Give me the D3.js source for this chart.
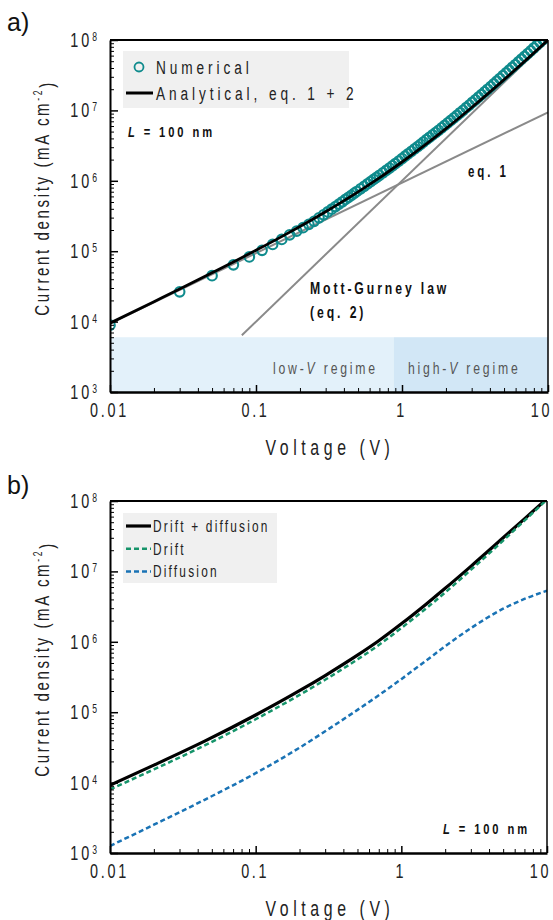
<!DOCTYPE html>
<html>
<head>
<meta charset="utf-8">
<script src="https://cdn.jsdelivr.net/npm/d3@7"></script>
<style>body{margin:0;background:#fff}</style>
</head>
<body>
<script>
var FONT = "'Liberation Sans', Arial, sans-serif"
  , K = 0.72            // horizontal squeeze, the original uses a narrow face
  ;

// axis ticks
var xTicks = [0.01, 0.1, 1, 10]
  , xTickLabels = ["0.01", "0.1", "1", "10"]
  , yTicks = [1e3, 1e4, 1e5, 1e6, 1e7, 1e8]
  , yExp = ["3", "4", "5", "6", "7", "8"]
  ;

// panel a) numerical solution (open circles)
var numV = [0.01, 0.03, 0.05, 0.07, 0.09, 0.11, 0.13, 0.15, 0.17, 0.19, 0.21, 0.23, 0.25, 0.27, 0.29,
            0.31, 0.33, 0.35, 0.37, 0.39, 0.41, 0.43, 0.45, 0.47, 0.49,
            0.52, 0.55, 0.58, 0.61, 0.64, 0.67, 0.70, 0.74, 0.78, 0.82, 0.86, 0.90, 0.95, 1.00,
            1.05, 1.10, 1.16, 1.22, 1.28, 1.34, 1.40, 1.47, 1.54, 1.62, 1.70, 1.78, 1.87, 1.96,
            2.06, 2.16, 2.27, 2.38, 2.50, 2.62, 2.75, 2.89, 3.03, 3.18, 3.34, 3.50, 3.68, 3.86,
            4.05, 4.25, 4.46, 4.68, 4.91, 5.16, 5.42, 5.69, 5.97, 6.27, 6.58, 6.91, 7.26, 7.62,
            8.00, 8.40, 8.82, 9.26, 9.72, 9.99];
var numJ = [8.9e3, 2.65e4, 4.49e4, 6.4e4, 8.3e4, 1.03e5, 1.25e5, 1.47e5, 1.71e5, 1.93e5, 2.16e5, 2.41e5, 2.66e5, 2.98e5, 3.29e5,
            3.61e5, 3.95e5, 4.30e5, 4.67e5, 5.04e5, 5.43e5, 5.83e5, 6.22e5, 6.63e5, 7.05e5,
            7.68e5, 8.34e5, 9.03e5, 9.73e5, 1.045e6, 1.118e6, 1.195e6, 1.298e6, 1.405e6, 1.517e6, 1.632e6, 1.752e6, 1.906e6, 2.066e6,
            2.234e6, 2.407e6, 2.621e6, 2.84e6, 3.064e6, 3.299e6, 3.543e6, 3.834e6, 4.128e6, 4.478e6, 4.84e6, 5.216e6, 5.655e6, 6.111e6,
            6.654e6, 7.202e6, 7.843e6, 8.497e6, 9.262e6, 1.004e7, 1.094e7, 1.192e7, 1.296e7, 1.411e7, 1.542e7, 1.675e7, 1.834e7, 1.997e7,
            2.182e7, 2.38e7, 2.604e7, 2.841e7, 3.109e7, 3.404e7, 3.726e7, 4.075e7, 4.454e7, 4.878e7, 5.336e7, 5.846e7, 6.413e7, 7.023e7,
            7.697e7, 8.439e7, 9.256e7, 1.015e8, 1.113e8, 1.173e8];

// panel a) analytical curve and the two limiting laws
var anaV = [0.01, 0.02, 0.03, 0.05, 0.07, 0.1, 0.15, 0.2, 0.3, 0.5, 0.7, 1, 1.5, 2, 3, 5, 7, 10];
var anaJ = [9.5e3, 1.92e4, 2.9e4, 4.93e4, 7.02e4, 1.03e5, 1.61e5, 2.24e5, 3.64e5, 6.97e5, 1.1e6, 1.85e6, 3.45e6, 5.5e6, 1.1e7, 2.74e7, 5.1e7, 1.0e8];
var eq1V = [0.01, 10], eq1J = [9.4e3, 9.4e6];
var mgV = [0.08, 10], mgJ = [6.4e3, 1e8];

// panel a) shaded regimes
var regimeV = [[0.01, 0.88], [0.88, 10]]
  , regimeTop = 6e3
  , regimeFill = ["#e3f1fa", "#d2e7f6"]
  ;

// panel b)
var bV = [0.01, 0.02, 0.045, 0.1, 0.2, 0.3, 0.5, 0.7, 1, 1.5, 2, 3, 5, 7, 10];
var bothJ  = [9.2e3, 1.77e4, 3.91e4, 9.12e4, 2.02e5, 3.32e5, 6.46e5, 1.035e6, 1.8e6, 3.51e6, 5.75e6, 1.18e7, 3.0e7, 5.57e7, 1.08e8];
var driftJ = [8.0e3, 1.54e4, 3.4e4, 7.94e4, 1.76e5, 2.89e5, 5.62e5, 9.0e5, 1.57e6, 3.05e6, 5.01e6, 1.05e7, 2.74e7, 5.26e7, 1.05e8];
var diffJ  = [1.26e3, 2.52e3, 5.75e3, 1.36e4, 3.13e4, 5.35e4, 1.08e5, 1.74e5, 2.95e5, 5.53e5, 8.65e5, 1.56e6, 2.95e6, 4.06e6, 5.31e6];

var TEAL = "#0f8b8d", GREEN = "#16946a", BLUE = "#1a73b5", GRAY = "#8a8a8a";

var svg = d3.select("body").append("svg").attr("width", 553).attr("height", 920);

function zip (xs, ys) { return xs.map(function (v, i) { return [v, ys[i]]; }); }

// squeeze a text horizontally around its own anchor; ls is the visible letter spacing
function narrow (sel, ls) {
    sel.each(function () {
        var t = d3.select(this)
          , x = +t.attr("x") || 0
          , y = +t.attr("y") || 0
          , pre = t.attr("transform") || ""
          ;
        t.attr("transform", pre + " translate(" + x + "," + y + ") scale(" + K + ",1) translate(" + (-x) + "," + (-y) + ")");
        if (ls != null) t.attr("letter-spacing", ls / K);
    });
    return sel;
}

function panel (id, top, bottom, right) {
    var x = d3.scaleLog().domain([0.01, 10]).range([110, right])
      , y = d3.scaleLog().domain([1e3, 1e8]).range([bottom, top])
      ;
    svg.append("clipPath").attr("id", id).append("rect")
        .attr("x", x(0.01)).attr("y", y(1e8))
        .attr("width", x(10) - x(0.01)).attr("height", y(1e3) - y(1e8));
    var g = svg.append("g");
    var plot = g.append("g").attr("clip-path", "url(#" + id + ")");
    var line = d3.line().x(function (d) { return x(d[0]); }).y(function (d) { return y(d[1]); }).curve(d3.curveMonotoneX);
    return { x: x, y: y, g: g, plot: plot, line: line };
}

function isMajor (d) { var l = Math.log10(d); return Math.abs(l - Math.round(l)) < 1e-6; }

function axes (p) {
    var x = p.x, y = p.y, g = p.g
      , b = y.range()[0], t = y.range()[1], l = x.range()[0], r = x.range()[1];

    // minor ticks
    g.append("g").attr("transform", "translate(0," + b + ")")
        .call(d3.axisBottom(x).tickValues(x.ticks().filter(function (d) { return !isMajor(d); }))
            .tickSize(-4).tickSizeOuter(0).tickFormat(""))
        .call(function (s) { s.select(".domain").remove(); });
    g.append("g").attr("transform", "translate(" + l + ",0)")
        .call(d3.axisLeft(y).tickValues(y.ticks().filter(function (d) { return !isMajor(d); }))
            .tickSize(-4).tickSizeOuter(0).tickFormat(""))
        .call(function (s) { s.select(".domain").remove(); });

    var gx = g.append("g").attr("transform", "translate(0," + b + ")")
        .call(d3.axisBottom(x).tickValues(xTicks).tickSize(-7).tickSizeOuter(0).tickPadding(11)
            .tickFormat(function (d, i) { return xTickLabels[i]; }));
    gx.select(".domain").attr("stroke-width", 2.5);
    gx.selectAll(".tick line").attr("stroke-width", 1.5);
    gx.selectAll(".tick text").attr("font-family", FONT).attr("font-size", 20).attr("fill", "#222")
        .attr("x", function (d, i) { return i === xTicks.length - 1 ? -7 : -1; });
    narrow(gx.selectAll(".tick text"), 2.7);

    var gy = g.append("g").attr("transform", "translate(" + l + ",0)")
        .call(d3.axisLeft(y).tickValues(yTicks).tickSize(-8).tickSizeOuter(0).tickPadding(10).tickFormat(""));
    gy.select(".domain").attr("stroke-width", 2);
    gy.selectAll(".tick line").attr("stroke-width", 1.5);
    gy.selectAll(".tick text").each(function (d, i) {
        var txt = d3.select(this).attr("font-family", FONT).attr("font-size", 20).attr("fill", "#222");
        txt.append("tspan").text("10");
        txt.append("tspan").attr("dy", "-0.5em").attr("font-size", 12).text(yExp[i]);
    });
    narrow(gy.selectAll(".tick text"), 3);

    // frame top and right
    g.append("line").attr("x1", l).attr("x2", r).attr("y1", t).attr("y2", t)
        .attr("stroke", "#000").attr("stroke-width", 2);
    g.append("line").attr("x1", r).attr("x2", r).attr("y1", t).attr("y2", b)
        .attr("stroke", "#000").attr("stroke-width", 1.5);

    // axis titles
    narrow(g.append("text").attr("x", 330).attr("y", b + 63)
        .attr("text-anchor", "middle").attr("font-family", FONT).attr("font-size", 22)
        .attr("fill", "#222").text("Voltage (V)"), 4.6);
    var yl = g.append("text").attr("transform", "translate(49," + ((t + b) / 2 - 18) + ") rotate(-90)")
        .attr("text-anchor", "middle").attr("font-family", FONT).attr("font-size", 21)
        .attr("fill", "#222");
    yl.append("tspan").text("Current density (mA cm");
    yl.append("tspan").attr("dy", "-0.6em").attr("font-size", 12).text("-2");
    yl.append("tspan").attr("dy", "0.6em").text(")");
    narrow(yl, 2.6);
}

// ---------- panel a ----------
var A = panel("clipA", 40, 392, 548);

A.plot.selectAll("rect.regime").data(regimeV).enter().append("rect")
    .attr("x", function (d) { return A.x(d[0]); })
    .attr("width", function (d) { return A.x(d[1]) - A.x(d[0]); })
    .attr("y", A.y(regimeTop))
    .attr("height", A.y(1e3) - A.y(regimeTop))
    .attr("fill", function (d, i) { return regimeFill[i]; });

var regimeText = A.g.append("g").attr("font-family", FONT).attr("font-size", 17).attr("fill", "#555");
[["low-", 273], ["high-", 408]].forEach(function (r) {
    var t = regimeText.append("text").attr("x", r[1]).attr("y", 374);
    t.append("tspan").text(r[0]);
    t.append("tspan").attr("font-style", "italic").text("V");
    t.append("tspan").text(" regime");
    narrow(t, 2.8);
});

[[eq1V, eq1J], [mgV, mgJ]].forEach(function (s) {
    A.plot.append("path").datum(zip(s[0], s[1]))
        .attr("d", d3.line().x(function (d) { return A.x(d[0]); }).y(function (d) { return A.y(d[1]); }))
        .attr("fill", "none").attr("stroke", GRAY).attr("stroke-width", 2);
});

A.plot.selectAll("circle.num").data(zip(numV, numJ)).enter().append("circle")
    .attr("cx", function (d) { return A.x(d[0]); })
    .attr("cy", function (d) { return A.y(d[1]); })
    .attr("r", 4.8).attr("fill", "none").attr("stroke", TEAL).attr("stroke-width", 2.1);

A.plot.append("path").datum(zip(anaV, anaJ)).attr("d", A.line)
    .attr("fill", "none").attr("stroke", "#000").attr("stroke-width", 2.8);

axes(A);

// legend a
var legA = A.g.append("g");
legA.append("rect").attr("x", 123).attr("y", 51).attr("width", 226).attr("height", 57).attr("fill", "#f0f0f0");
legA.append("circle").attr("cx", 139).attr("cy", 67).attr("r", 4.5).attr("fill", "none").attr("stroke", TEAL).attr("stroke-width", 1.8);
legA.append("line").attr("x1", 126).attr("x2", 153).attr("y1", 93).attr("y2", 93).attr("stroke", "#000").attr("stroke-width", 3);
narrow(legA.selectAll("text").data(["Numerical", "Analytical, eq. 1 + 2"]).enter().append("text")
    .attr("x", 156).attr("y", function (d, i) { return 74 + i * 26; })
    .attr("font-family", FONT).attr("font-size", 19).attr("fill", "#222")
    .text(function (d) { return d; }), 3.9);

function boldLabel (g, x, y, size, parts) {
    var t = g.append("text").attr("x", x).attr("y", y).attr("font-family", FONT).attr("font-size", size)
        .attr("font-weight", "bold").attr("fill", "#111");
    parts.forEach(function (p) {
        var s = t.append("tspan").text(p[0]);
        if (p[1]) s.attr("font-style", "italic");
    });
    narrow(t, 2.9);
}
boldLabel(A.g, 128, 137, 15.5, [["L", true], [" = 100 nm"]]);
boldLabel(A.g, 468, 177, 16, [["eq. 1"]]);
boldLabel(A.g, 310, 294, 17, [["Mott-Gurney law"]]);
boldLabel(A.g, 310, 318, 17, [["(eq. 2)"]]);

svg.append("text").attr("x", 7).attr("y", 31).attr("font-family", FONT)
    .attr("font-size", 25).attr("fill", "#111").text("a)");

// ---------- panel b ----------
var B = panel("clipB", 501, 853, 547);

B.plot.append("path").datum(zip(bV, diffJ)).attr("d", B.line)
    .attr("fill", "none").attr("stroke", BLUE).attr("stroke-width", 2.5).attr("stroke-dasharray", "5,3");
B.plot.append("path").datum(zip(bV, bothJ)).attr("d", B.line)
    .attr("fill", "none").attr("stroke", "#000").attr("stroke-width", 3.2);
B.plot.append("path").datum(zip(bV, driftJ)).attr("d", B.line)
    .attr("fill", "none").attr("stroke", GREEN).attr("stroke-width", 2.5).attr("stroke-dasharray", "5,3");

axes(B);

var legB = B.g.append("g");
legB.append("rect").attr("x", 123).attr("y", 513).attr("width", 154).attr("height", 70).attr("fill", "#f0f0f0");
var legBItems = [["Drift + diffusion", "#000", null, 3.2], ["Drift", GREEN, "5,3", 2.5], ["Diffusion", BLUE, "5,3", 2.5]];
legBItems.forEach(function (it, i) {
    var yy = 526 + i * 22.7;
    legB.append("line").attr("x1", 126).attr("x2", 151).attr("y1", yy).attr("y2", yy)
        .attr("stroke", it[1]).attr("stroke-width", it[3]).attr("stroke-dasharray", it[2]);
    narrow(legB.append("text").attr("x", 153).attr("y", yy + 6).attr("font-family", FONT).attr("font-size", 16.5)
        .attr("fill", "#222").text(it[0]), 2.2);
});
boldLabel(B.g, 443, 834, 15.5, [["L", true], [" = 100 nm"]]);

svg.append("text").attr("x", 7).attr("y", 494).attr("font-family", FONT)
    .attr("font-size", 25).attr("fill", "#111").text("b)");
</script>
</body>
</html>
